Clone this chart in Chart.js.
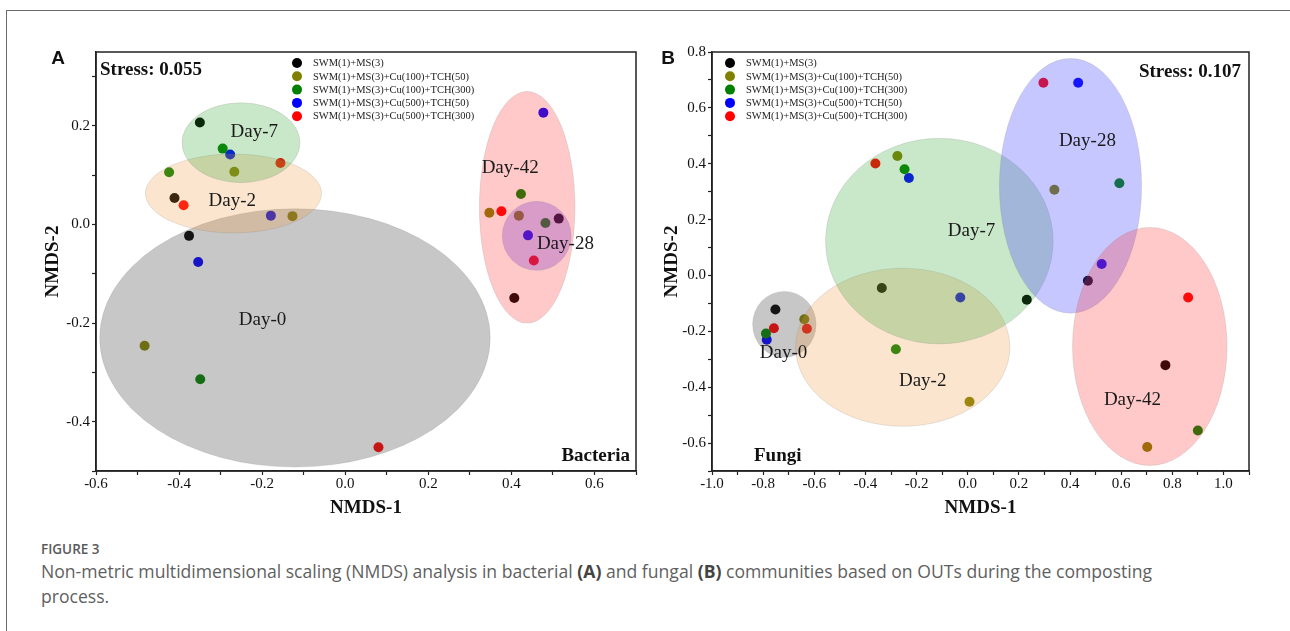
<!DOCTYPE html>
<html><head><meta charset="utf-8">
<script src="https://cdn.jsdelivr.net/npm/chart.js@4.4.1/dist/chart.umd.min.js"></script>
<style>
html,body{margin:0;padding:0;background:#fff;width:1290px;height:631px;overflow:hidden;position:relative;}
#frame{position:absolute;left:6px;top:10px;width:1300px;height:700px;border-top:1px solid #6b6b6b;border-left:1px solid #6b6b6b;}
canvas{position:absolute;top:0;}
#figlab{position:absolute;left:41px;top:540px;font-family:"Open Sans";font-weight:600;font-size:13.5px;color:#5a5a5a;}
#cap{position:absolute;left:41px;top:559px;font-family:"Open Sans";font-size:17.6px;line-height:25px;color:#5f5f5f;white-space:nowrap;}
#cap b{font-weight:700;color:#444;}
</style></head>
<body>
<div id="frame"></div>
<canvas id="cA" width="650" height="530" style="left:0px"></canvas>
<canvas id="cB" width="640" height="530" style="left:650px"></canvas>
<div id="figlab">FIGURE 3</div>
<div id="cap">Non-metric multidimensional scaling (NMDS) analysis in bacterial <b>(A)</b> and fungal <b>(B)</b> communities based on OUTs during the composting<br>process.</div>
<script>
// ---- Treatments (series) ----
const treatments = ["SWM(1)+MS(3)", "SWM(1)+MS(3)+Cu(100)+TCH(50)", "SWM(1)+MS(3)+Cu(100)+TCH(300)", "SWM(1)+MS(3)+Cu(500)+TCH(50)", "SWM(1)+MS(3)+Cu(500)+TCH(300)"];
const seriesColors = ["#000000", "#808000", "#008000", "#0000ff", "#ff0000"];

// ---- Bacteria NMDS points [NMDS-1, NMDS-2], order: Day-0, Day-2, Day-7, Day-28, Day-42 ----
const bacSWM      = [[-0.376, -0.023], [-0.411, 0.054], [-0.350, 0.207], [0.514, 0.012], [0.407, -0.149]];
const bacCu100T50 = [[-0.483, -0.246], [-0.127, 0.017], [-0.267, 0.107], [0.418, 0.018], [0.347, 0.024]];
const bacCu100T300= [[-0.349, -0.314], [-0.424, 0.106], [-0.295, 0.154], [0.482, 0.003], [0.423, 0.062]];
const bacCu500T50 = [[-0.354, -0.076], [-0.179, 0.018], [-0.277, 0.142], [0.440, -0.022], [0.477, 0.227]];
const bacCu500T300= [[0.080, -0.452], [-0.389, 0.039], [-0.156, 0.125], [0.454, -0.073], [0.376, 0.027]];

// ---- Fungi NMDS points ----
const funSWM      = [[-0.752, -0.122], [-0.336, -0.045], [0.231, -0.087], [0.470, -0.019], [0.773, -0.321]];
const funCu100T50 = [[-0.639, -0.157], [0.007, -0.452], [-0.275, 0.428], [0.339, 0.307], [0.702, -0.614]];
const funCu100T300= [[-0.789, -0.208], [-0.281, -0.264], [-0.247, 0.380], [0.593, 0.330], [0.900, -0.555]];
const funCu500T50 = [[-0.786, -0.230], [-0.029, -0.079], [-0.230, 0.349], [0.432, 0.690], [0.524, 0.041]];
const funCu500T300= [[-0.758, -0.189], [-0.629, -0.191], [-0.361, 0.401], [0.296, 0.690], [0.862, -0.079]];

// ---- Group ellipses (data units) ----
const bacGroups = ["Day-0", "Day-2", "Day-7", "Day-42", "Day-28"];
const bacEllCX = [-0.121, -0.269, -0.251, 0.438, 0.461];
const bacEllCY = [-0.230, 0.063, 0.166, 0.035, -0.023];
const bacEllRX = [0.470, 0.212, 0.142, 0.115, 0.083];
const bacEllRY = [0.262, 0.080, 0.081, 0.235, 0.070];
const bacLblX  = [-0.199, -0.272, -0.219, 0.397, 0.530];
const bacLblY  = [-0.193, 0.047, 0.188, 0.114, -0.040];

const funGroups = ["Day-0", "Day-2", "Day-7", "Day-28", "Day-42"];
const funEllCX = [-0.717, -0.254, -0.111, 0.402, 0.712];
const funEllCY = [-0.175, -0.257, 0.123, 0.321, -0.254];
const funEllRX = [0.124, 0.419, 0.445, 0.278, 0.302];
const funEllRY = [0.118, 0.283, 0.368, 0.456, 0.426];
const funLblX  = [-0.720, -0.176, 0.015, 0.468, 0.644];
const funLblY  = [-0.276, -0.377, 0.159, 0.482, -0.446];

// ---- Axis ranges & tick labels ----
const bacXRange = [-0.6, 0.7], bacYRange = [-0.5, 0.35];
const funXRange = [-1.0, 1.1], funYRange = [-0.7, 0.8];

const groupFill = {"Day-0":"rgba(70,70,70,0.30)","Day-2":"rgba(240,150,60,0.25)","Day-7":"rgba(40,160,40,0.25)","Day-28A":"rgba(130,50,200,0.30)","Day-28B":"rgba(70,70,255,0.30)","Day-42":"rgba(255,40,40,0.25)"};

function toPts(arr){ return arr.map(p => ({x:p[0], y:p[1]})); }
function datasets(list){
  return list.map((arr,i) => ({label: treatments[i], data: toPts(arr), backgroundColor: seriesColors[i], borderWidth:0, pointRadius:5, pointHoverRadius:5}));
}
const tickCb = v => (Math.abs(Math.round(v*10)) % 2 === 0) ? (Math.round(v*10)/10).toFixed(1) : '';
function axis(range, horizontal, size){
  return {
    type:'linear', min:range[0], max:range[1],
    ticks:{stepSize:0.1, includeBounds:false, autoSkip:false, maxRotation:0, callback:tickCb,
           font:{family:'Liberation Serif', size:15}, color:'#111', padding: horizontal ? 0 : 2},
    grid:{drawOnChartArea:false, drawTicks:true, tickLength:4, color:'#222', tickColor:'#222', tickWidth:1.2},
    border:{display:true, color:'#222', width:1.5},
    afterFit: s => { if (horizontal) s.height = size; else s.width = size; }
  };
}

const decor = {
  id:'decor',
  afterDatasetsDraw(chart, args, o){
    const {ctx, chartArea:a, scales:{x, y}} = chart;
    ctx.save();
    ctx.beginPath(); ctx.rect(a.left, a.top, a.right-a.left, a.bottom-a.top); ctx.clip();
    for (let i=0;i<o.groups.length;i++){
      const cx = x.getPixelForValue(o.cx[i]), cy = y.getPixelForValue(o.cy[i]);
      const rx = Math.abs(x.getPixelForValue(o.cx[i]+o.rx[i]) - cx);
      const ry = Math.abs(y.getPixelForValue(o.cy[i]+o.ry[i]) - cy);
      ctx.beginPath(); ctx.ellipse(cx, cy, rx, ry, 0, 0, Math.PI*2);
      ctx.fillStyle = o.fills[i]; ctx.fill();
      ctx.strokeStyle = 'rgba(120,120,120,0.18)'; ctx.lineWidth = 1; ctx.stroke();
    }
    ctx.restore();
    ctx.save();
    // group labels
    ctx.fillStyle = '#1a1a1a'; ctx.font = '19px "Liberation Serif"';
    ctx.textAlign = 'center'; ctx.textBaseline = 'middle';
    for (let i=0;i<o.groups.length;i++){
      ctx.fillText(o.groups[i], x.getPixelForValue(o.lx[i]), y.getPixelForValue(o.ly[i]));
    }
    // frame
    ctx.strokeStyle = '#222'; ctx.lineWidth = 1.5;
    ctx.strokeRect(a.left, a.top, a.right-a.left, a.bottom-a.top);
    // legend
    ctx.textAlign = 'left'; ctx.font = '10.5px "Liberation Serif"'; ctx.fillStyle = '#222';
    chart.data.datasets.forEach((d,i) => {
      const yy = o.legY + i*13.3;
      ctx.beginPath(); ctx.arc(o.legX, yy, 5, 0, Math.PI*2);
      ctx.fillStyle = d.backgroundColor; ctx.fill();
      ctx.fillStyle = '#222'; ctx.fillText(d.label, o.legX + 16, yy + 0.5);
    });
    // stress, panel name
    ctx.fillStyle = '#111'; ctx.font = 'bold 19px "Liberation Serif"';
    ctx.textAlign = o.stressAlign; ctx.fillText(o.stress, o.stressX, o.stressY);
    ctx.textAlign = o.nameAlign; ctx.fillText(o.name, o.nameX, o.nameY);
    // axis titles
    ctx.textAlign = 'center';
    ctx.fillText('NMDS-1', (a.left+a.right)/2, 508);
    ctx.save(); ctx.translate(o.ytX, (a.top+a.bottom)/2); ctx.rotate(-Math.PI/2);
    ctx.fillText('NMDS-2', 0, 0); ctx.restore();
    // panel letter
    ctx.font = 'bold 19px "Liberation Sans"'; ctx.textAlign = 'center';
    ctx.fillText(o.letter, o.letterX, 59);
    ctx.restore();
  }
};

function build(id, list, xr, yr, yW, padRight, dec){
  new Chart(document.getElementById(id), {
    type:'scatter',
    data:{datasets: datasets(list)},
    options:{
      responsive:false, animation:false, events:[],
      layout:{padding:{top:52, right:padRight, left:0, bottom:0}},
      plugins:{legend:{display:false}, tooltip:{enabled:false}, decor:dec},
      scales:{x: axis(xr, true, 59), y: axis(yr, false, yW)}
    },
    plugins:[decor]
  });
}

build('cA', [bacSWM, bacCu100T50, bacCu100T300, bacCu500T50, bacCu500T300], bacXRange, bacYRange, 96, 14, {
  groups:bacGroups, cx:bacEllCX, cy:bacEllCY, rx:bacEllRX, ry:bacEllRY, lx:bacLblX, ly:bacLblY,
  fills: bacGroups.map(g => groupFill[g === 'Day-28' ? 'Day-28A' : g]),
  legX:297, legY:63, stress:'Stress: 0.055', stressAlign:'left', stressX:100, stressY:70,
  name:'Bacteria', nameAlign:'right', nameX:630, nameY:456, ytX:53, letter:'A', letterX:58
});
build('cB', [funSWM, funCu100T50, funCu100T300, funCu500T50, funCu500T300], funXRange, funYRange, 62, 41, {
  groups:funGroups, cx:funEllCX, cy:funEllCY, rx:funEllRX, ry:funEllRY, lx:funLblX, ly:funLblY,
  fills: funGroups.map(g => groupFill[g === 'Day-28' ? 'Day-28B' : g]),
  legX:80, legY:63, stress:'Stress: 0.107', stressAlign:'right', stressX:591, stressY:72,
  name:'Fungi', nameAlign:'left', nameX:104, nameY:456, ytX:22, letter:'B', letterX:18
});
</script>
</body></html>
